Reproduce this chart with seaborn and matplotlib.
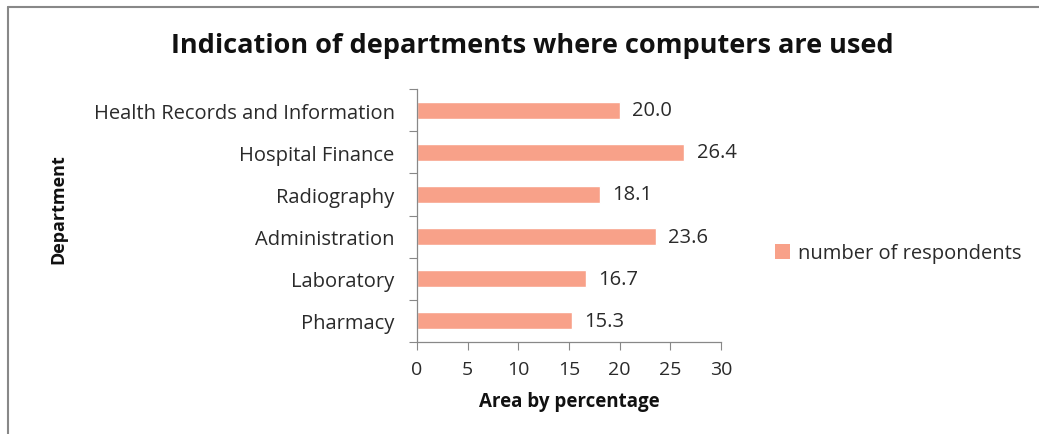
import matplotlib
matplotlib.use("Agg")
import matplotlib.pyplot as plt
import seaborn as sns
import pandas as pd
from matplotlib.lines import Line2D
from matplotlib.patches import Patch

departments = ["Health Records and Information", "Hospital Finance", "Radiography",
               "Administration", "Laboratory", "Pharmacy"]
values = [20.0, 26.4, 18.1, 23.6, 16.7, 15.3]
series_name = "number of respondents"
x_ticks = [0, 5, 10, 15, 20, 25, 30]

sns.set_theme(style="white")
plt.rcParams['font.family'] = ['Open Sans', 'DejaVu Sans']

df = pd.DataFrame({"Department": departments, "value": values})

fig = plt.figure(figsize=(10.39, 4.35), dpi=100)
ax = fig.add_axes([0.4013, 0.2115, 0.2926, 0.5815])

bar_color = "#F8A189"
sns.barplot(data=df, y="Department", x="value", orient="h", color=bar_color,
            width=0.4, ax=ax, saturation=1)

text_color = "#2a2a2a"
for i, v in enumerate(values):
    ax.text(v + 1.2, i, f"{v:.1f}", va="center", ha="left", fontsize=14.5, color=text_color)

ax.set_xlim(0, 30)
ax.set_ylim(len(departments) - 0.5, -0.5)
ax.set_xticks(x_ticks)
ax.set_xticklabels([str(t) for t in x_ticks], fontsize=14, color=text_color)
ax.set_yticks(range(len(departments)))
ax.set_yticklabels(departments, fontsize=14.5, color=text_color)
ax.tick_params(axis='y', length=0, pad=16)
ax.tick_params(axis='x', length=6, width=0.8, color="#888888", direction='out', pad=7,
               bottom=True)
ax.set_yticks([i - 0.5 for i in range(len(departments) + 1)], minor=True)
ax.tick_params(axis='y', which='minor', length=6, width=0.8, color="#888888", left=True)

for s in ["top", "right"]:
    ax.spines[s].set_visible(False)
for s in ["left", "bottom"]:
    ax.spines[s].set_color("#888888")
    ax.spines[s].set_linewidth(0.9)

ax.set_xlabel("Area by percentage", fontsize=13.5, fontweight="bold", color="#111111", labelpad=9)
ax.set_ylabel("")
fig.text(0.056, 0.52, "Department", rotation=90, ha="center", va="center",
         fontsize=13, fontweight="bold", color="#111111")

fig.text(0.512, 0.895, "Indication of departments where computers are used",
         ha="center", va="center", fontsize=19.5, fontweight="bold", color="#111111")

handles = [Patch(facecolor=bar_color, edgecolor="none", label=series_name)]
fig.legend(handles=handles, loc="center left", bbox_to_anchor=(0.728, 0.415),
           frameon=False, fontsize=14.5, handlelength=0.75, handleheight=0.75,
           handletextpad=0.4, labelcolor=text_color)

fig.add_artist(Line2D([0.008, 0.008], [0.0, 0.982], transform=fig.transFigure,
                      color="#888888", linewidth=1.5))
fig.add_artist(Line2D([0.008, 1.0], [0.982, 0.982], transform=fig.transFigure,
                      color="#888888", linewidth=1.5))

fig.savefig("out.png", dpi=100)
